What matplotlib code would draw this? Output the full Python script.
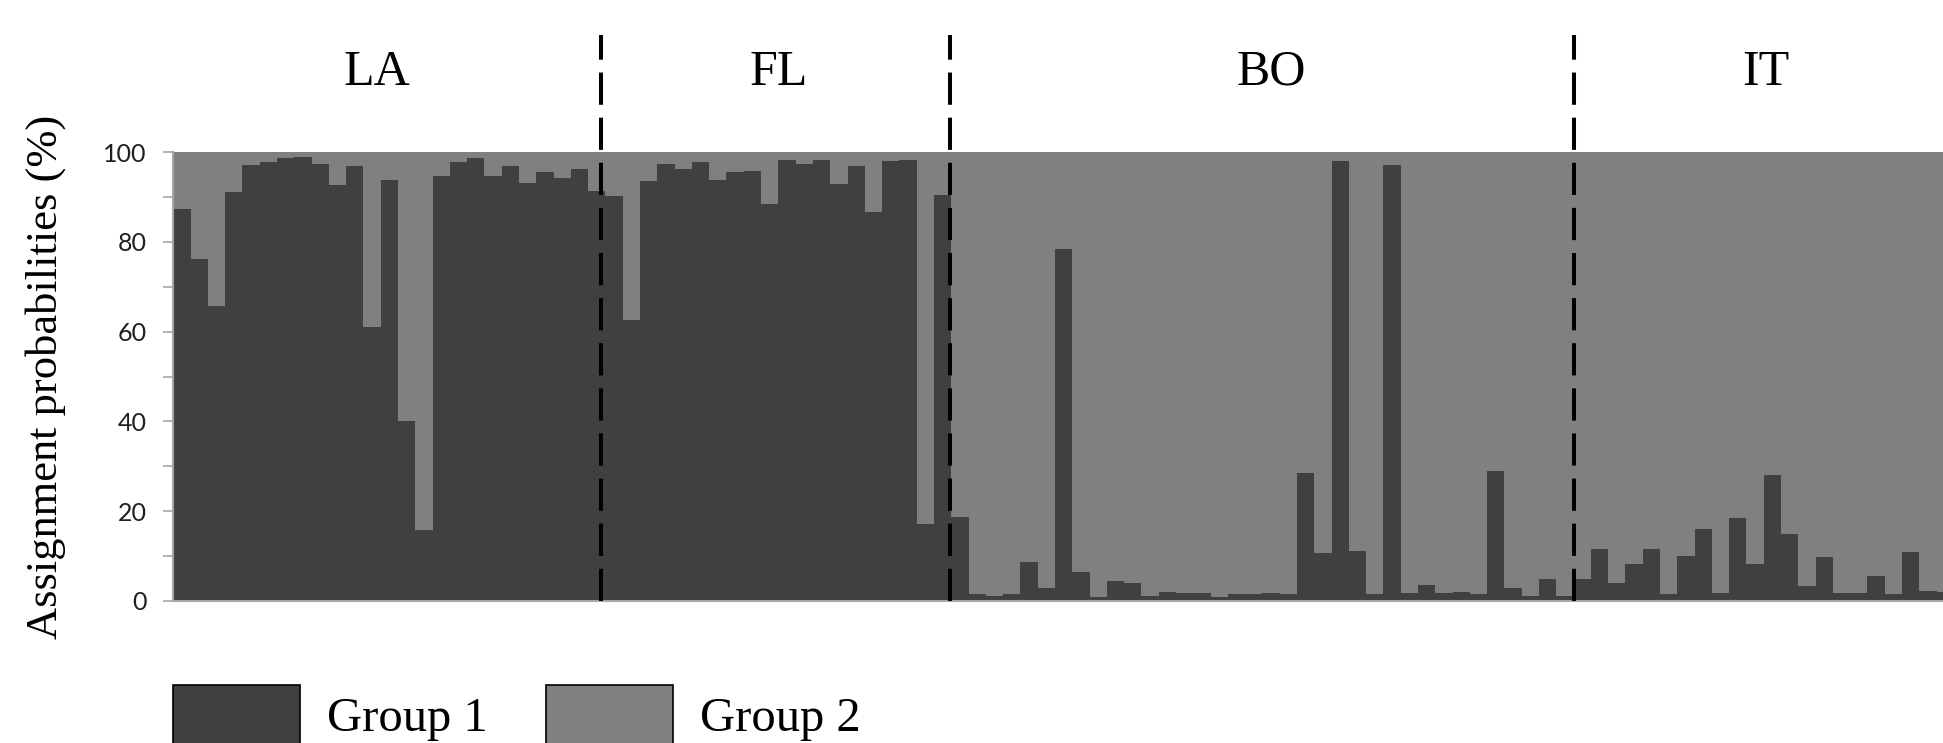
import matplotlib.pyplot as plt
import numpy as np
from matplotlib.patches import Rectangle

# Group 1 assignment probability (%) per individual; Group 2 is the remainder
la = [87.4, 76.1, 65.7, 91.1, 97.1, 97.7, 98.6, 98.9, 97.4, 92.6, 96.8, 61.1, 93.8,
      40.1, 15.9, 94.7, 97.7, 98.6, 94.7, 96.8, 93.2, 95.5, 94.1, 96.2, 91.4]
fl = [90.1, 62.6, 93.5, 97.3, 96.2, 97.7, 93.8, 95.5, 95.8, 88.4, 98.2, 97.4, 98.2,
      92.9, 96.8, 86.6, 97.9, 98.2, 17.1, 90.4]
bo = [18.8, 1.5, 1.2, 1.5, 8.6, 3.0, 78.5, 6.5, 0.9, 4.4, 4.1, 1.2, 2.0, 1.8, 1.8,
      0.9, 1.5, 1.5, 1.8, 1.5, 28.5, 10.7, 98.0, 11.1, 1.5, 97.1, 1.8, 3.5, 1.8, 2.0,
      1.5, 29.0, 3.0, 1.2, 5.0, 1.2]
it = [5.0, 11.6, 3.9, 8.3, 11.6, 1.5, 10.1, 16.1, 1.8, 18.5, 8.3, 28.1, 14.9, 3.3,
      9.8, 1.8, 1.8, 5.6, 1.5, 11.0, 2.3, 2.0]
populations = ['LA', 'FL', 'BO', 'IT']
legend_labels = ['Group 1', 'Group 2']

DARK = '#404040'
LIGHT = '#808080'
AXIS_GREY = '#A6A6A6'

group1 = np.array(la + fl + bo + it)
group2 = 100 - group1
x = np.arange(len(group1))

# layout (pixels of a 1943x743 canvas)
W, H = 1943, 743
fig = plt.figure(figsize=(W / 100, H / 100), dpi=100)
ax = fig.add_axes([173.3 / W, (H - 601) / H, (W - 173.3) / W, 449 / H])

# no edges / antialiasing so adjacent bars join without seams
ax.bar(x, group1, width=1.0, color=DARK, linewidth=0, antialiased=False)
ax.bar(x, group2, bottom=group1, width=1.0, color=LIGHT, linewidth=0, antialiased=False)

ax.set_xlim(-0.5, 101.87)
ax.set_ylim(0, 100)

# dashed separators between populations (drawn above the plot)
for xd in [24.24, 44.42, 80.53]:
    ax.plot([xd, xd], [0, 126.1], color='black', lw=2.9, dashes=(8, 3.2),
            clip_on=False, zorder=5, solid_capstyle='butt', dash_capstyle='butt')

# population labels
for name, xl in zip(populations, [11.3, 34.53, 63.0, 91.6]):
    ax.text(xl, 115, name, ha='center', va='baseline', fontsize=36,
            family='Liberation Serif', clip_on=False)

# axes styling
for side in ['top', 'right']:
    ax.spines[side].set_visible(False)
ax.spines['left'].set_color(AXIS_GREY)
ax.spines['bottom'].set_color(AXIS_GREY)
ax.spines['left'].set_linewidth(1.5)
ax.spines['bottom'].set_linewidth(1.5)
ax.set_xticks([])
ax.set_yticks(np.arange(0, 101, 20))
ax.set_yticks(np.arange(10, 100, 20), minor=True)
ax.tick_params(axis='y', which='both', length=7.2, width=1.2, color=AXIS_GREY,
               direction='out', pad=12)
ax.tick_params(axis='y', which='major', labelsize=18, labelcolor='#1f1f1f')
for lab in ax.get_yticklabels():
    lab.set_family('Lato')

ax.set_ylabel('Assignment probabilities (%)', fontsize=32, family='Liberation Serif',
              va='center')
ax.yaxis.set_label_coords((46 - 173.3) / (W - 173.3), 0.5)

# legend, drawn by hand; the boxes run past the bottom edge as in the source
for lbl, col, bx, tx in zip(legend_labels, [DARK, LIGHT], [173, 546], [327, 700]):
    fig.patches.append(Rectangle((bx / W, (H - 751) / H), 127 / W, 66 / H,
                                 transform=fig.transFigure, facecolor=col,
                                 edgecolor='black', linewidth=1.2))
    fig.text(tx / W, (H - 731) / H, lbl, fontsize=35, family='Liberation Serif',
             ha='left', va='baseline')

plt.savefig('out.png', dpi=100)
plt.close()
